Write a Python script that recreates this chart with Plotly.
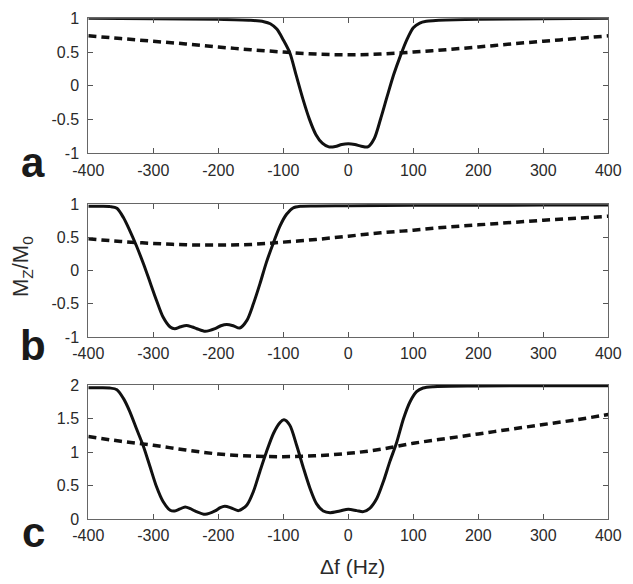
import plotly.graph_objects as go

# ---- data ----
# Panel a
fa_solid = [-400, -300, -200, -150, -130, -120, -110, -100, -90, -80, -70, -60, -50, -40, -30, -20, -10, 0,
            10, 20, 30, 40, 50, 60, 70, 80, 90, 100, 110, 120, 130, 150, 200, 300, 400]
ma_solid = [1.0, 0.995, 0.985, 0.97, 0.95, 0.92, 0.84, 0.68, 0.49, 0.15, -0.19, -0.49, -0.72, -0.85, -0.905, -0.90, -0.87, -0.86,
            -0.87, -0.895, -0.905, -0.78, -0.48, -0.15, 0.17, 0.44, 0.68, 0.86, 0.93, 0.955, 0.965, 0.975, 0.985, 0.995, 1.0]
fa_dash = [-400, -350, -300, -250, -200, -150, -100, -50, 0, 50, 100, 150, 200, 250, 300, 350, 400]
ma_dash = [0.74, 0.70, 0.66, 0.62, 0.575, 0.535, 0.50, 0.47, 0.46, 0.47, 0.50, 0.535, 0.575, 0.62, 0.66, 0.70, 0.74]

# Panel b
fb_solid = [-400, -380, -366, -356, -346, -336, -326, -315, -305, -295, -285, -274, -267, -258, -249, -240, -233, -220,
            -205, -196, -187, -177, -167, -156, -146, -136, -126, -115, -105, -95, -85, -74, -50, 0, 100, 200, 300, 400]
mb_solid = [0.97, 0.97, 0.965, 0.94, 0.80, 0.60, 0.375, 0.10, -0.175, -0.45, -0.70, -0.85, -0.875, -0.845, -0.825, -0.85, -0.875, -0.915,
            -0.875, -0.83, -0.81, -0.83, -0.865, -0.75, -0.50, -0.20, 0.125, 0.425, 0.675, 0.85, 0.945, 0.97, 0.975, 0.98, 0.985, 0.985, 0.99, 0.99]
fb_dash = [-400, -350, -300, -250, -200, -150, -100, -50, 0, 50, 100, 150, 200, 250, 300, 350, 400]
mb_dash = [0.48, 0.44, 0.41, 0.39, 0.385, 0.395, 0.43, 0.47, 0.52, 0.57, 0.61, 0.655, 0.69, 0.725, 0.76, 0.79, 0.82]

# Panel c
fc_solid = [-400, -380, -367, -356, -346, -336, -326, -315, -305, -295, -285, -274, -267, -259, -251, -243, -236, -220,
            -205, -197, -190, -180, -169, -156, -146, -136, -126, -115, -105, -99, -90, -79.5, -69, -59, -49, -38.5, -28,
            -13, 0, 13, 23, 33, 44, 54, 64, 74, 85, 95, 105, 115, 131, 200, 300, 400]
mc_solid = [1.96, 1.96, 1.955, 1.93, 1.80, 1.60, 1.35, 1.08, 0.78, 0.48, 0.26, 0.13, 0.12, 0.15, 0.18, 0.155, 0.12, 0.07,
            0.12, 0.17, 0.19, 0.165, 0.125, 0.21, 0.41, 0.71, 1.00, 1.28, 1.44, 1.48, 1.40, 1.10, 0.76, 0.46, 0.23, 0.12, 0.095,
            0.12, 0.145, 0.125, 0.11, 0.16, 0.31, 0.56, 0.86, 1.13, 1.50, 1.75, 1.90, 1.955, 1.975, 1.985, 1.99, 1.99]
fc_dash = [-400, -350, -300, -250, -200, -150, -100, -50, 0, 50, 100, 150, 200, 250, 300, 350, 400]
mc_dash = [1.23, 1.16, 1.10, 1.03, 0.97, 0.94, 0.93, 0.945, 0.98, 1.04, 1.13, 1.20, 1.27, 1.34, 1.41, 1.48, 1.56]

x_ticks = [-400, -300, -200, -100, 0, 100, 200, 300, 400]
x_ticktext = ["-400", "-300", "-200", "-100", "0", "100", "200", "300", "400"]
y_ticks_ab = [-1, -0.5, 0, 0.5, 1]
y_ticktext_ab = ["-1", "-0.5", "0", "0.5", "1"]
y_ticks_c = [0, 0.5, 1, 1.5, 2]
y_ticktext_c = ["0", "0.5", "1", "1.5", "2"]
panel_letters = ["a", "b", "c"]

W, H = 633, 584
x0, x1 = 88.3, 608.3
panels_px = [(18.3, 153.3), (204.3, 337.0), (385.0, 519.0)]
yranges = [[-1, 1], [-1, 1], [0, 2]]
letter_y = [162, 345, 532]

fig = go.Figure()
series = [(fa_solid, ma_solid, fa_dash, ma_dash),
          (fb_solid, mb_solid, fb_dash, mb_dash),
          (fc_solid, mc_solid, fc_dash, mc_dash)]

font_family = "Liberation Sans, Arial, sans-serif"
text_col = "#2a2a2a"

for i, (fs, ms, fd, md) in enumerate(series):
    xa = "x" if i == 0 else f"x{i+1}"
    ya = "y" if i == 0 else f"y{i+1}"
    fig.add_trace(go.Scatter(x=fd, y=md, mode="lines", xaxis=xa, yaxis=ya,
                             line=dict(color="#111111", width=3.5, dash="8px,5px", shape="spline", smoothing=1.0),
                             showlegend=False, hoverinfo="skip"))
    fig.add_trace(go.Scatter(x=fs, y=ms, mode="lines", xaxis=xa, yaxis=ya,
                             line=dict(color="#111111", width=3, shape="spline", smoothing=0.8),
                             showlegend=False, hoverinfo="skip"))

layout = dict(
    width=W, height=H,
    margin=dict(l=0, r=0, t=0, b=0),
    paper_bgcolor="white", plot_bgcolor="white",
    font=dict(family=font_family, size=16, color=text_col),
)
for i in range(3):
    top, bot = panels_px[i]
    xk = "xaxis" if i == 0 else f"xaxis{i+1}"
    yk = "yaxis" if i == 0 else f"yaxis{i+1}"
    ya = "y" if i == 0 else f"y{i+1}"
    xa = "x" if i == 0 else f"x{i+1}"
    layout[xk] = dict(domain=[x0 / W, x1 / W], range=[-400, 400], anchor=ya,
                      tickvals=x_ticks, ticktext=x_ticktext, ticks="inside", ticklen=5,
                      tickcolor="#555555", showline=True, linecolor="#666666", linewidth=1,
                      mirror="ticks", showgrid=False, zeroline=False, automargin=False,
                      tickfont=dict(size=16, color=text_col), ticklabelstandoff=2)
    yt = y_ticks_c if i == 2 else y_ticks_ab
    ytt = y_ticktext_c if i == 2 else y_ticktext_ab
    layout[yk] = dict(domain=[1 - bot / H, 1 - top / H], range=yranges[i], anchor=xa,
                      tickvals=yt, ticktext=ytt, ticks="inside", ticklen=5,
                      tickcolor="#555555", showline=True, linecolor="#666666", linewidth=1,
                      mirror="ticks", showgrid=False, zeroline=False, automargin=False,
                      tickfont=dict(size=16, color=text_col), ticklabelstandoff=5)

fig.update_layout(**layout)

annotations = []
for i, letter in enumerate(panel_letters):
    annotations.append(dict(text=f"<b>{letter}</b>", x=33 / W, y=1 - letter_y[i] / H,
                            xref="paper", yref="paper", showarrow=False,
                            xanchor="center", yanchor="middle",
                            font=dict(size=42, family=font_family, color="#1a1a1a")))
annotations.append(dict(text="M<sub>Z</sub>/M<sub>0</sub>", x=22 / W, y=1 - 267 / H,
                        xref="paper", yref="paper", showarrow=False, textangle=-90,
                        xanchor="center", yanchor="middle",
                        font=dict(size=22, family=font_family, color=text_col)))
annotations.append(dict(text="Δf (Hz)", x=352 / W, y=1 - 566 / H,
                        xref="paper", yref="paper", showarrow=False,
                        xanchor="center", yanchor="middle",
                        font=dict(size=21, family=font_family, color=text_col)))
fig.update_layout(annotations=annotations)

fig.write_html("out.html",
               config={"displayModeBar": False, "staticPlot": True},
               post_script="document.body.style.margin='0';document.body.style.padding='0';")
